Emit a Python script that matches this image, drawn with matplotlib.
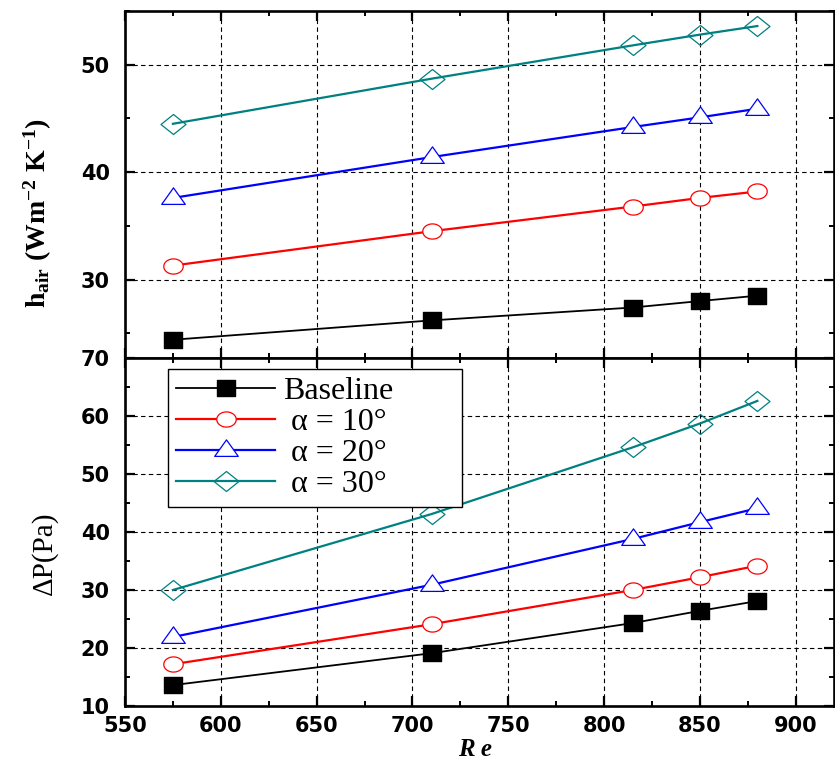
import matplotlib
matplotlib.use("Agg")
import matplotlib.pyplot as plt
import numpy as np
from matplotlib.path import Path
from matplotlib.ticker import MultipleLocator

# ---- data ----
re_vals = [575, 710, 815, 850, 880]
series_labels = ["Baseline", " \u03b1 = 10\u00b0", " \u03b1 = 20\u00b0", " \u03b1 = 30\u00b0"]
h_baseline = [24.4, 26.2, 27.4, 28.0, 28.5]
h_a10 = [31.3, 34.5, 36.8, 37.6, 38.2]
h_a20 = [37.6, 41.4, 44.2, 45.1, 45.9]
h_a30 = [44.5, 48.7, 51.8, 52.8, 53.6]
dp_baseline = [13.6, 19.1, 24.3, 26.4, 28.1]
dp_a10 = [17.2, 24.1, 30.0, 32.2, 34.2]
dp_a20 = [21.9, 30.9, 38.8, 41.7, 44.1]
dp_a30 = [30.0, 43.1, 54.6, 58.7, 62.6]
x_ticks = [550, 600, 650, 700, 750, 800, 850, 900]
h_ticks = [30, 40, 50]
dp_ticks = [10, 20, 30, 40, 50, 60, 70]

plt.rcParams['mathtext.fontset'] = 'custom'
plt.rcParams['mathtext.rm'] = 'Liberation Serif:bold'
plt.rcParams['mathtext.it'] = 'Liberation Serif:bold:italic'
plt.rcParams['mathtext.bf'] = 'Liberation Serif:bold'

# custom marker shapes
sq = Path([(-0.5, -0.42), (0.5, -0.42), (0.5, 0.42), (-0.5, 0.42), (-0.5, -0.42)],
          [Path.MOVETO, Path.LINETO, Path.LINETO, Path.LINETO, Path.CLOSEPOLY])
t = np.linspace(0, 2 * np.pi, 60)
ell = Path(np.column_stack([0.5 * np.cos(t), 0.39 * np.sin(t)]), closed=True)
tri = Path([(-0.5, -0.25), (0.5, -0.25), (0.0, 0.45), (-0.5, -0.25)],
           [Path.MOVETO, Path.LINETO, Path.LINETO, Path.CLOSEPOLY])
dia = Path([(-0.5, 0), (0, 0.4), (0.5, 0), (0, -0.4), (-0.5, 0)],
           [Path.MOVETO, Path.LINETO, Path.LINETO, Path.LINETO, Path.CLOSEPOLY])

styles = [
    dict(color='black', marker=sq, markersize=13, markerfacecolor='black', markeredgecolor='black', lw=1.3),
    dict(color='#ff0000', marker=ell, markersize=14, markerfacecolor='white', markeredgecolor='#ff0000', markeredgewidth=0.9, lw=1.6),
    dict(color='#0000ff', marker=tri, markersize=17, markerfacecolor='white', markeredgecolor='#0000ff', markeredgewidth=0.9, lw=1.6),
    dict(color='#008080', marker=dia, markersize=18, markerfacecolor='none', markeredgecolor='#008080', markeredgewidth=0.9, lw=1.6),
]

W, H = 835, 763
fig = plt.figure(figsize=(W / 100, H / 100), dpi=100)
left = 125 / W
right = 834 / W
ax1 = fig.add_axes([left, 1 - 358 / H, right - left, (358 - 11) / H])
ax2 = fig.add_axes([left, 1 - 706 / H, right - left, (706 - 358) / H])

h_series = [h_baseline, h_a10, h_a20, h_a30]
dp_series = [dp_baseline, dp_a10, dp_a20, dp_a30]
handles = []
for s, st in zip(h_series, styles):
    ax1.plot(re_vals, s, **st, zorder=3)
for s, st, lab in zip(dp_series, styles, series_labels):
    ln, = ax2.plot(re_vals, s, label=lab, **st, zorder=3)
    handles.append(ln)

for ax in (ax1, ax2):
    ax.set_xlim(550, 920)
    ax.set_xticks(x_ticks)
    ax.xaxis.set_minor_locator(MultipleLocator(25))
    ax.yaxis.set_minor_locator(MultipleLocator(5))
    ax.tick_params(which='both', direction='in', top=True, right=True, bottom=True, left=True)
    ax.tick_params(which='major', length=7, width=1.6)
    ax.tick_params(which='minor', length=3.5, width=1.4)
    ax.tick_params(axis='y', which='major', pad=11)
    ax.tick_params(axis='x', which='major', pad=7)
    for sp in ax.spines.values():
        sp.set_linewidth(1.9)
    ax.grid(True, which='major', color='black', linestyle=(0, (4, 3)), linewidth=0.8)
    ax.set_axisbelow(True)

ax1.set_ylim(22.7, 55)
ax1.set_yticks(h_ticks)
ax1.set_xticklabels([])
ax2.set_ylim(10, 70)
ax2.set_yticks(dp_ticks)

for ax in (ax1, ax2):
    for lab in ax.get_yticklabels() + ax.get_xticklabels():
        lab.set_fontfamily('DejaVu Sans')
        lab.set_fontweight('bold')
        lab.set_fontsize(15)

fig.text(38 / W, 1 - 213 / H, r"$\mathrm{h_{air}\ (Wm^{-2}\ K^{-1})}$", rotation=90,
         ha='center', va='center', fontsize=20)
fig.text(44 / W, 1 - 553 / H, "\u0394P(Pa)", rotation=90, ha='center', va='center',
         fontsize=21, family='Liberation Serif')
fig.text(475 / W, 1 - 749 / H, "R e", ha='center', va='center', fontsize=18,
         family='Liberation Serif', weight='bold', style='italic')

leg = ax2.legend(handles=handles, loc='upper left',
                 bbox_to_anchor=(43 / 709, 1 - 151 / 348, 294 / 709, 140 / 348),
                 mode='expand', borderaxespad=0, fancybox=False, frameon=True,
                 prop=dict(family='Liberation Serif', size=23),
                 handlelength=3.1, handletextpad=0.25, labelspacing=0.05,
                 borderpad=0.25)
leg.get_frame().set_edgecolor('black')
leg.get_frame().set_linewidth(1.0)
leg.get_frame().set_alpha(1)

fig.savefig("out.png", dpi=100)
